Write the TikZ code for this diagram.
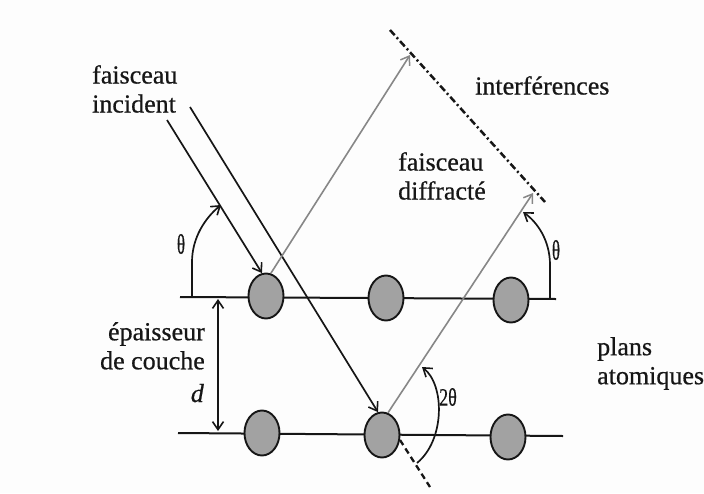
\documentclass[tikz,border=0pt]{standalone}
\usepackage{fontspec}
\usepackage{graphicx}
\setmainfont{Liberation Serif}[FakeBold=0.6]
\usetikzlibrary{shapes.geometric,arrows.meta}
\definecolor{bg}{RGB}{253,253,253}
\definecolor{ink}{RGB}{22,22,22}
\definecolor{beamgray}{RGB}{135,135,135}
\definecolor{atomfill}{RGB}{162,162,162}
\begin{document}
\begin{tikzpicture}[x=1pt,y=-1pt,
  atom/.style={ellipse,draw=ink,fill=atomfill,line width=1.9pt,minimum width=35pt,minimum height=45pt,inner sep=0pt},
  plane/.style={draw=ink,line width=2pt},
  tip/.tip={Straight Barb[length=8pt,width=11pt,line width=1.6pt]},
  beam/.style={draw=ink,line width=1.7pt,-tip},
  dbeam/.style={draw=beamgray,line width=1.6pt,-{Straight Barb[length=8pt,width=11pt,line width=1.5pt]}},
  anglemark/.style={draw=ink,line width=1.7pt,-tip},
  lbl/.style={font=\fontsize{26}{29}\selectfont,text=ink,inner sep=0pt},
  greek/.style={font=\fontsize{28}{28}\selectfont,text=ink,inner sep=0pt}
]
\useasboundingbox[fill=bg] (0,0) rectangle (704,493);

% atomic planes
\coordinate (p1w) at (180,297);
\coordinate (p1e) at (556,299);
\coordinate (p2w) at (178,433);
\coordinate (p2e) at (563,436);
\draw[plane] (p1w) -- (p1e);
\draw[plane] (p2w) -- (p2e);

% atoms
\node[atom] (a1) at (266,296) {};
\node[atom] (a2) at (386,298) {};
\node[atom] (a3) at (511,300) {};
\node[atom] (b1) at (262,433) {};
\node[atom] (b2) at (382,435) {};
\node[atom] (b3) at (508,437) {};

% incident beams
\coordinate (i1s) at (167,120);
\coordinate (i2s) at (190,107);
\draw[beam] (i1s) -- (a1.100);
\draw[beam] (i2s) -- (b2.100);

% continuation of incident beam
\coordinate (x1) at (400,440);
\coordinate (x2) at (430,487);
\draw[ink,line width=2.3pt,dash pattern=on 6pt off 4pt] (x1) -- (x2);

% diffracted beams
\coordinate (d1e) at (410,55);
\coordinate (d2e) at (533,193);
\draw[dbeam] (a1.78) -- (d1e);
\draw[dbeam] (b2.75) -- (d2e);

% interference front
\coordinate (w1) at (390,30);
\coordinate (w2) at (545,202);
\draw[ink,line width=2.5pt,dash pattern=on 7pt off 3pt on 2pt off 3pt] (w1) -- (w2);

% angle marks
\coordinate (tl0) at (192,297);
\coordinate (tl1) at (192,262);
\coordinate (tl2) at (221,205);
\draw[anglemark] (tl0) -- (tl1) .. controls (192,238) and (205,218) .. (tl2);
\coordinate (tr0) at (550,299);
\coordinate (tr1) at (550,265);
\coordinate (tr2) at (523,212);
\draw[anglemark] (tr0) -- (tr1) .. controls (550,240) and (537,222) .. (tr2);
\coordinate (t20) at (417,463);
\coordinate (t21) at (422,367);
\draw[anglemark] (t20) .. controls (445,440) and (445,385) .. (t21);

% thickness d
\coordinate (dt) at (218,299);
\coordinate (db) at (218,431);
\draw[draw=ink,line width=1.7pt,tip-tip] (dt) -- (db);

% labels
\node[lbl,anchor=north west,align=left] (linc) at (92,65) {faisceau\\incident};
\node[lbl,anchor=north west] (lint) at (475,76) {interférences};
\node[lbl,anchor=north west,align=left] (ldif) at (398,152) {faisceau\\diffracté};
\node[lbl,anchor=north east,align=right] (lep) at (205,322) {épaisseur\\de couche};
\node[lbl,anchor=base east] (ld) at (204,402) {\itshape d};
\node[lbl,anchor=north west,align=left] (lpl) at (597,337) {plans\\atomiques};
\node[greek] (th1) at (181,244) {\scalebox{0.6}[1]{θ}};
\node[greek] (th2) at (556,250) {\scalebox{0.6}[1]{θ}};
\node[greek,font=\fontsize{25}{25}\selectfont] (th3) at (448,397) {\scalebox{0.72}[1]{2θ}};
\end{tikzpicture}
\end{document}
